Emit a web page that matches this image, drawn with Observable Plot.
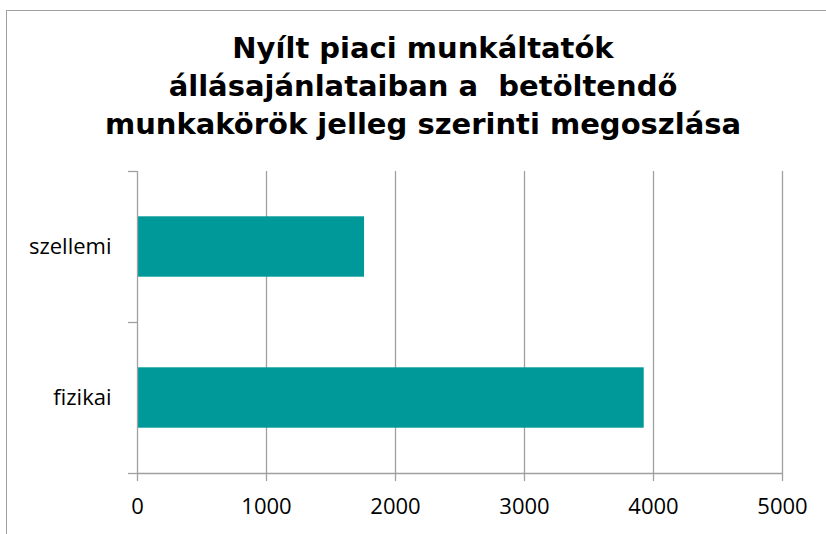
<!DOCTYPE html>
<html>
<head>
<meta charset="utf-8">
<script src="https://cdn.jsdelivr.net/npm/d3@7"></script>
<script src="https://cdn.jsdelivr.net/npm/@observablehq/plot@0.6"></script>
<style>
  html, body { margin: 0; padding: 0; background: #fff; overflow: hidden; }
  #wrap { position: relative; width: 826px; height: 534px; overflow: hidden; }
  #frame { position: absolute; left: 6px; top: 10px; width: 900px; height: 700px;
           border: 1.5px solid #a0a0a0; box-sizing: border-box; }
  #title { position: relative; height: 150px; box-sizing: border-box; padding-top: 29px;
           padding-left: 20px; text-align: center; font-family: "DejaVu Sans"; font-weight: bold;
           font-size: 29px; line-height: 38px; color: #000; }
  #chart { position: relative; }
</style>
</head>
<body>
<div id="wrap">
  <div id="frame"></div>
  <div id="title">Nyílt piaci munkáltatók<br>állásajánlataiban a&nbsp; betöltendő<br>munkakörök jelleg szerinti megoszlása</div>
  <div id="chart"></div>
</div>
<script>
const categories = ["fizikai", "szellemi"];
const values = [3928, 1760];
const xTicks = [0, 1000, 2000, 3000, 4000, 5000];

const data = categories.map((c, i) => ({category: c, value: values[i], i}));
const gridColor = "#a0a0a0";

const chart = Plot.plot({
  width: 826,
  height: 384,
  marginLeft: 137,
  marginRight: 44,
  marginTop: 21,
  marginBottom: 61,
  style: {fontFamily: "'Open Sans'", fontSize: "22px", color: "#000", background: "transparent", overflow: "visible"},
  x: {domain: [0, 5000], label: null},
  y: {domain: [0, categories.length], label: null},
  marks: [
    Plot.ruleX(xTicks.slice(1), {y1: 0, y2: categories.length, stroke: gridColor, strokeWidth: 1.3}),
    Plot.rectX(data, {x1: 0, x2: "value", y1: d => d.i + 0.3, y2: d => d.i + 0.7, fill: "#009999"}),
    Plot.ruleY([0], {stroke: gridColor, strokeWidth: 1.3}),
    Plot.ruleX([0], {y1: 0, y2: categories.length, stroke: gridColor, strokeWidth: 1.3}),
    Plot.axisX({ticks: xTicks, label: null, tickSize: 8, tickPadding: 17, stroke: gridColor, strokeWidth: 1.3, strokeOpacity: 1, tickFormat: d => String(d), fill: "#000"}),
    Plot.axisY({ticks: [0, 1, 2], label: null, tickSize: 9, tickFormat: () => "", stroke: gridColor, strokeWidth: 1.3, strokeOpacity: 1}),
    Plot.axisY({ticks: categories.map((c, i) => i + 0.5), label: null, tickSize: 0, tickPadding: 26, tickFormat: d => categories[Math.floor(d)], fill: "#000"})
  ]
});
document.getElementById("chart").appendChild(chart);
</script>
</body>
</html>
